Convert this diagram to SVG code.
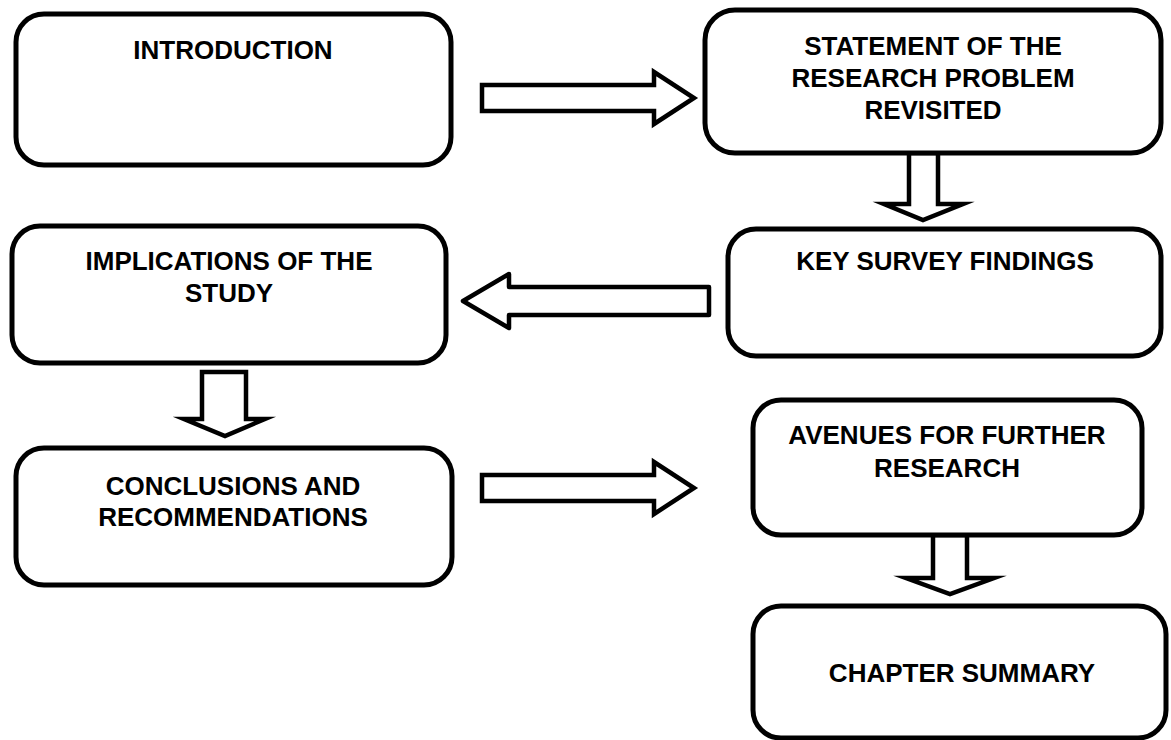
<svg xmlns="http://www.w3.org/2000/svg" width="1171" height="740" viewBox="0 0 1171 740">
  <style>
    .box { fill: #ffffff; stroke: #000000; stroke-width: 5; }
    .arrow { fill: #ffffff; stroke: #000000; stroke-width: 4.5; stroke-linejoin: miter; stroke-miterlimit: 10; }
    .lbl { font-family: "Liberation Sans", Arial, sans-serif; font-weight: bold; font-size: 26px; fill: #000000; text-anchor: middle; }
  </style>
  <rect width="1171" height="740" fill="#ffffff"/>

  <!-- block arrows between the steps -->
  <g id="connectors">
    <polygon class="arrow" points="482,85 654,85 654,72 694,98 654,124 654,111 482,111"/>
    <polygon class="arrow" points="909,153 938,153 938,204 963,204 923,220 884,204 909,204"/>
    <polygon class="arrow" style="stroke-linejoin:round" points="709,287 509,287 509,274 463,301 509,328 509,315 709,315"/>
    <polygon class="arrow" points="202,372 246,372 246,419 265,419 225,436 184,419 202,419"/>
    <polygon class="arrow" points="482,475 654,475 654,462 694,488 654,514 654,501 482,501"/>
    <polygon class="arrow" points="933,535 967,535 967,578 994,578 950,594 906,578 933,578"/>
  </g>

  <g id="introduction">
    <rect class="box" x="16" y="14" width="435" height="151" rx="28"/>
    <text class="lbl" x="233" y="59">INTRODUCTION</text>
  </g>

  <g id="statement">
    <rect class="box" x="705" y="10" width="456" height="143" rx="30"/>
    <text class="lbl" x="933" y="55">STATEMENT OF THE</text>
    <text class="lbl" x="933" y="87">RESEARCH PROBLEM</text>
    <text class="lbl" x="933" y="119">REVISITED</text>
  </g>

  <g id="key-findings">
    <rect class="box" x="728" y="229" width="433" height="127" rx="28"/>
    <text class="lbl" x="945" y="270">KEY SURVEY FINDINGS</text>
  </g>

  <g id="implications">
    <rect class="box" x="12" y="226" width="434" height="137" rx="28"/>
    <text class="lbl" x="229" y="270">IMPLICATIONS OF THE</text>
    <text class="lbl" x="229" y="302">STUDY</text>
  </g>

  <g id="conclusions">
    <rect class="box" x="16" y="448" width="436" height="137" rx="28"/>
    <text class="lbl" x="233" y="495">CONCLUSIONS AND</text>
    <text class="lbl" x="233" y="526">RECOMMENDATIONS</text>
  </g>

  <g id="avenues">
    <rect class="box" x="753" y="400" width="389" height="135" rx="28"/>
    <text class="lbl" x="947" y="444">AVENUES FOR FURTHER</text>
    <text class="lbl" x="947" y="477">RESEARCH</text>
  </g>

  <g id="chapter-summary">
    <rect class="box" x="753" y="606" width="413" height="132" rx="28"/>
    <text class="lbl" x="962" y="682">CHAPTER SUMMARY</text>
  </g>
</svg>
